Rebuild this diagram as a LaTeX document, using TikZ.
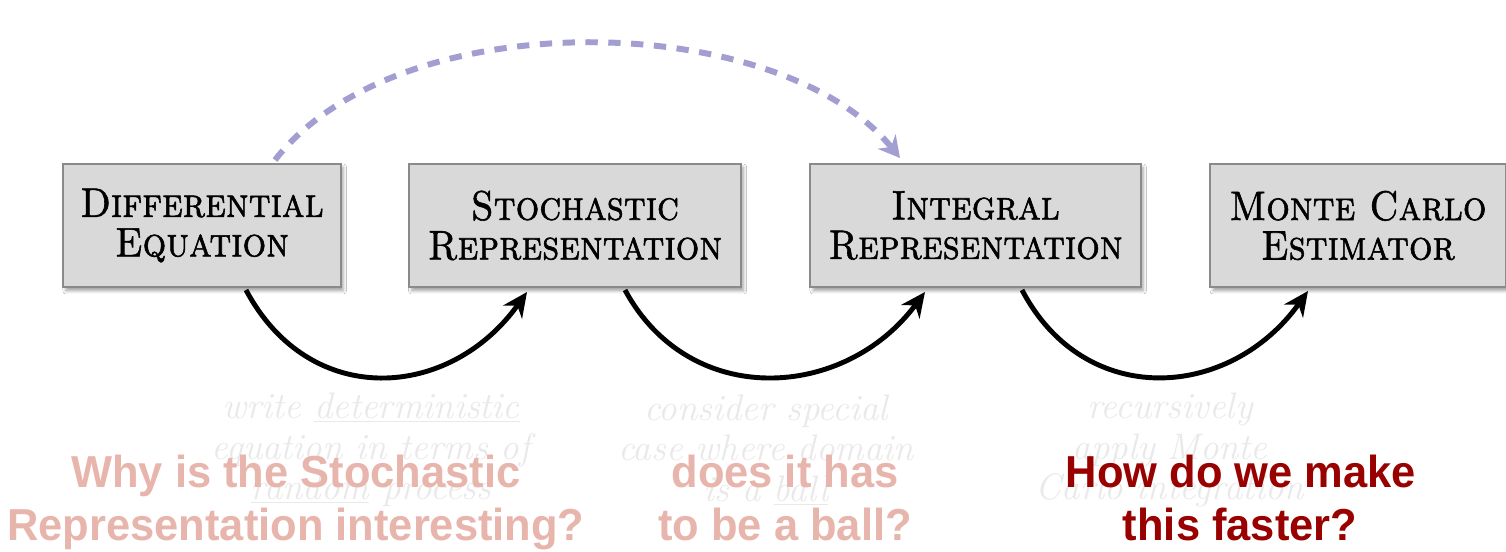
\documentclass[tikz,border=0pt]{standalone}
\usepackage{fontspec}
\usetikzlibrary{arrows.meta,shadows,shadows.blur}
\newfontfamily\qfont{Liberation Sans}[FakeStretch=0.97]
\newfontfamily\capsfont{lmromancaps10-regular.otf}[FakeStretch=0.9,FakeBold=1.4]
\definecolor{boxfill}{HTML}{D9D9D9}
\definecolor{boxedge}{HTML}{8A8A8A}
\definecolor{faint}{HTML}{E9E9E9}
\definecolor{pinkq}{HTML}{E8B5AD}
\definecolor{darkq}{HTML}{990000}
\definecolor{lav}{HTML}{A29ED2}
\begin{document}
\begin{tikzpicture}[x=0.02cm,y=-0.02cm,
  stagebox/.style={draw=boxedge,line width=1.2pt,fill=boxfill,rectangle,
    align=center,inner sep=0pt,
    font=\capsfont\fontsize{23.5}{22.5}\selectfont,
    blur shadow={shadow xshift=1.5pt,shadow yshift=-2pt,shadow blur steps=5,shadow opacity=35}},
  swoop/.style={line width=2.8pt,-{Stealth[length=14pt,width=13pt]}},
  leap/.style={line width=3.4pt,color=lav,dash pattern=on 7pt off 6pt,
    -{Stealth[length=12pt,width=13pt]}},
  note/.style={color=faint,align=center,font=\fontsize{21}{23}\selectfont\itshape},
  question/.style={anchor=base,font=\qfont\bfseries\fontsize{25.5}{30}\selectfont}
]
\useasboundingbox[fill=white] (0,0) rectangle (1506,551);

% faint step descriptions under the arrows
\node[note] (n1) at (371,450) {write \underline{deterministic}\\equation in terms of\\\underline{random} process};
\node[note] (n2) at (766,450) {consider special\\case where domain\\is a \underline{ball}};
\node[note] (n3) at (1170,450) {recursively\\apply Monte\\Carlo integration};

% the four stages
\node[stagebox,minimum width=158pt,minimum height=70.5pt] (de) at (202,225.5) {Differential\\Equation};
\node[stagebox,minimum width=189pt,minimum height=70.5pt] (sr) at (575,225.5) {Stochastic\\Representation};
\node[stagebox,minimum width=188pt,minimum height=70.5pt] (ir) at (975.5,225.5) {Integral\\Representation};
\node[stagebox,minimum width=168pt,minimum height=70.5pt] (mc) at (1358,225.5) {Monte Carlo\\Estimator};

% connectors between stages
\coordinate (a1) at (246,290); \coordinate (b1) at (527,292);
\coordinate (a2) at (625,290); \coordinate (b2) at (925,292);
\coordinate (a3) at (1022,290); \coordinate (b3) at (1308,291);
\draw[swoop] (a1) .. controls (310,410) and (450,400) .. (b1);
\draw[swoop] (a2) .. controls (690,410) and (845,400) .. (b2);
\draw[swoop] (a3) .. controls (1085,410) and (1230,400) .. (b3);

% shortcut from the equation straight to the integral
\coordinate (s0) at (275,160); \coordinate (s1) at (900,158);
\draw[leap] (s0) .. controls (400,0) and (780,10) .. (s1);

% questions
\node[question,color=pinkq] (q1a) at (296,487) {Why is the Stochastic};
\node[question,color=pinkq] (q1b) at (296,540) {Representation interesting?};
\node[question,color=pinkq] (q2a) at (785,487) {does it has};
\node[question,color=pinkq] (q2b) at (785,540) {to be a ball?};
\node[question,color=darkq] (q3a) at (1241,487) {How do we make};
\node[question,color=darkq] (q3b) at (1240,540) {this faster?};
\end{tikzpicture}
\end{document}
